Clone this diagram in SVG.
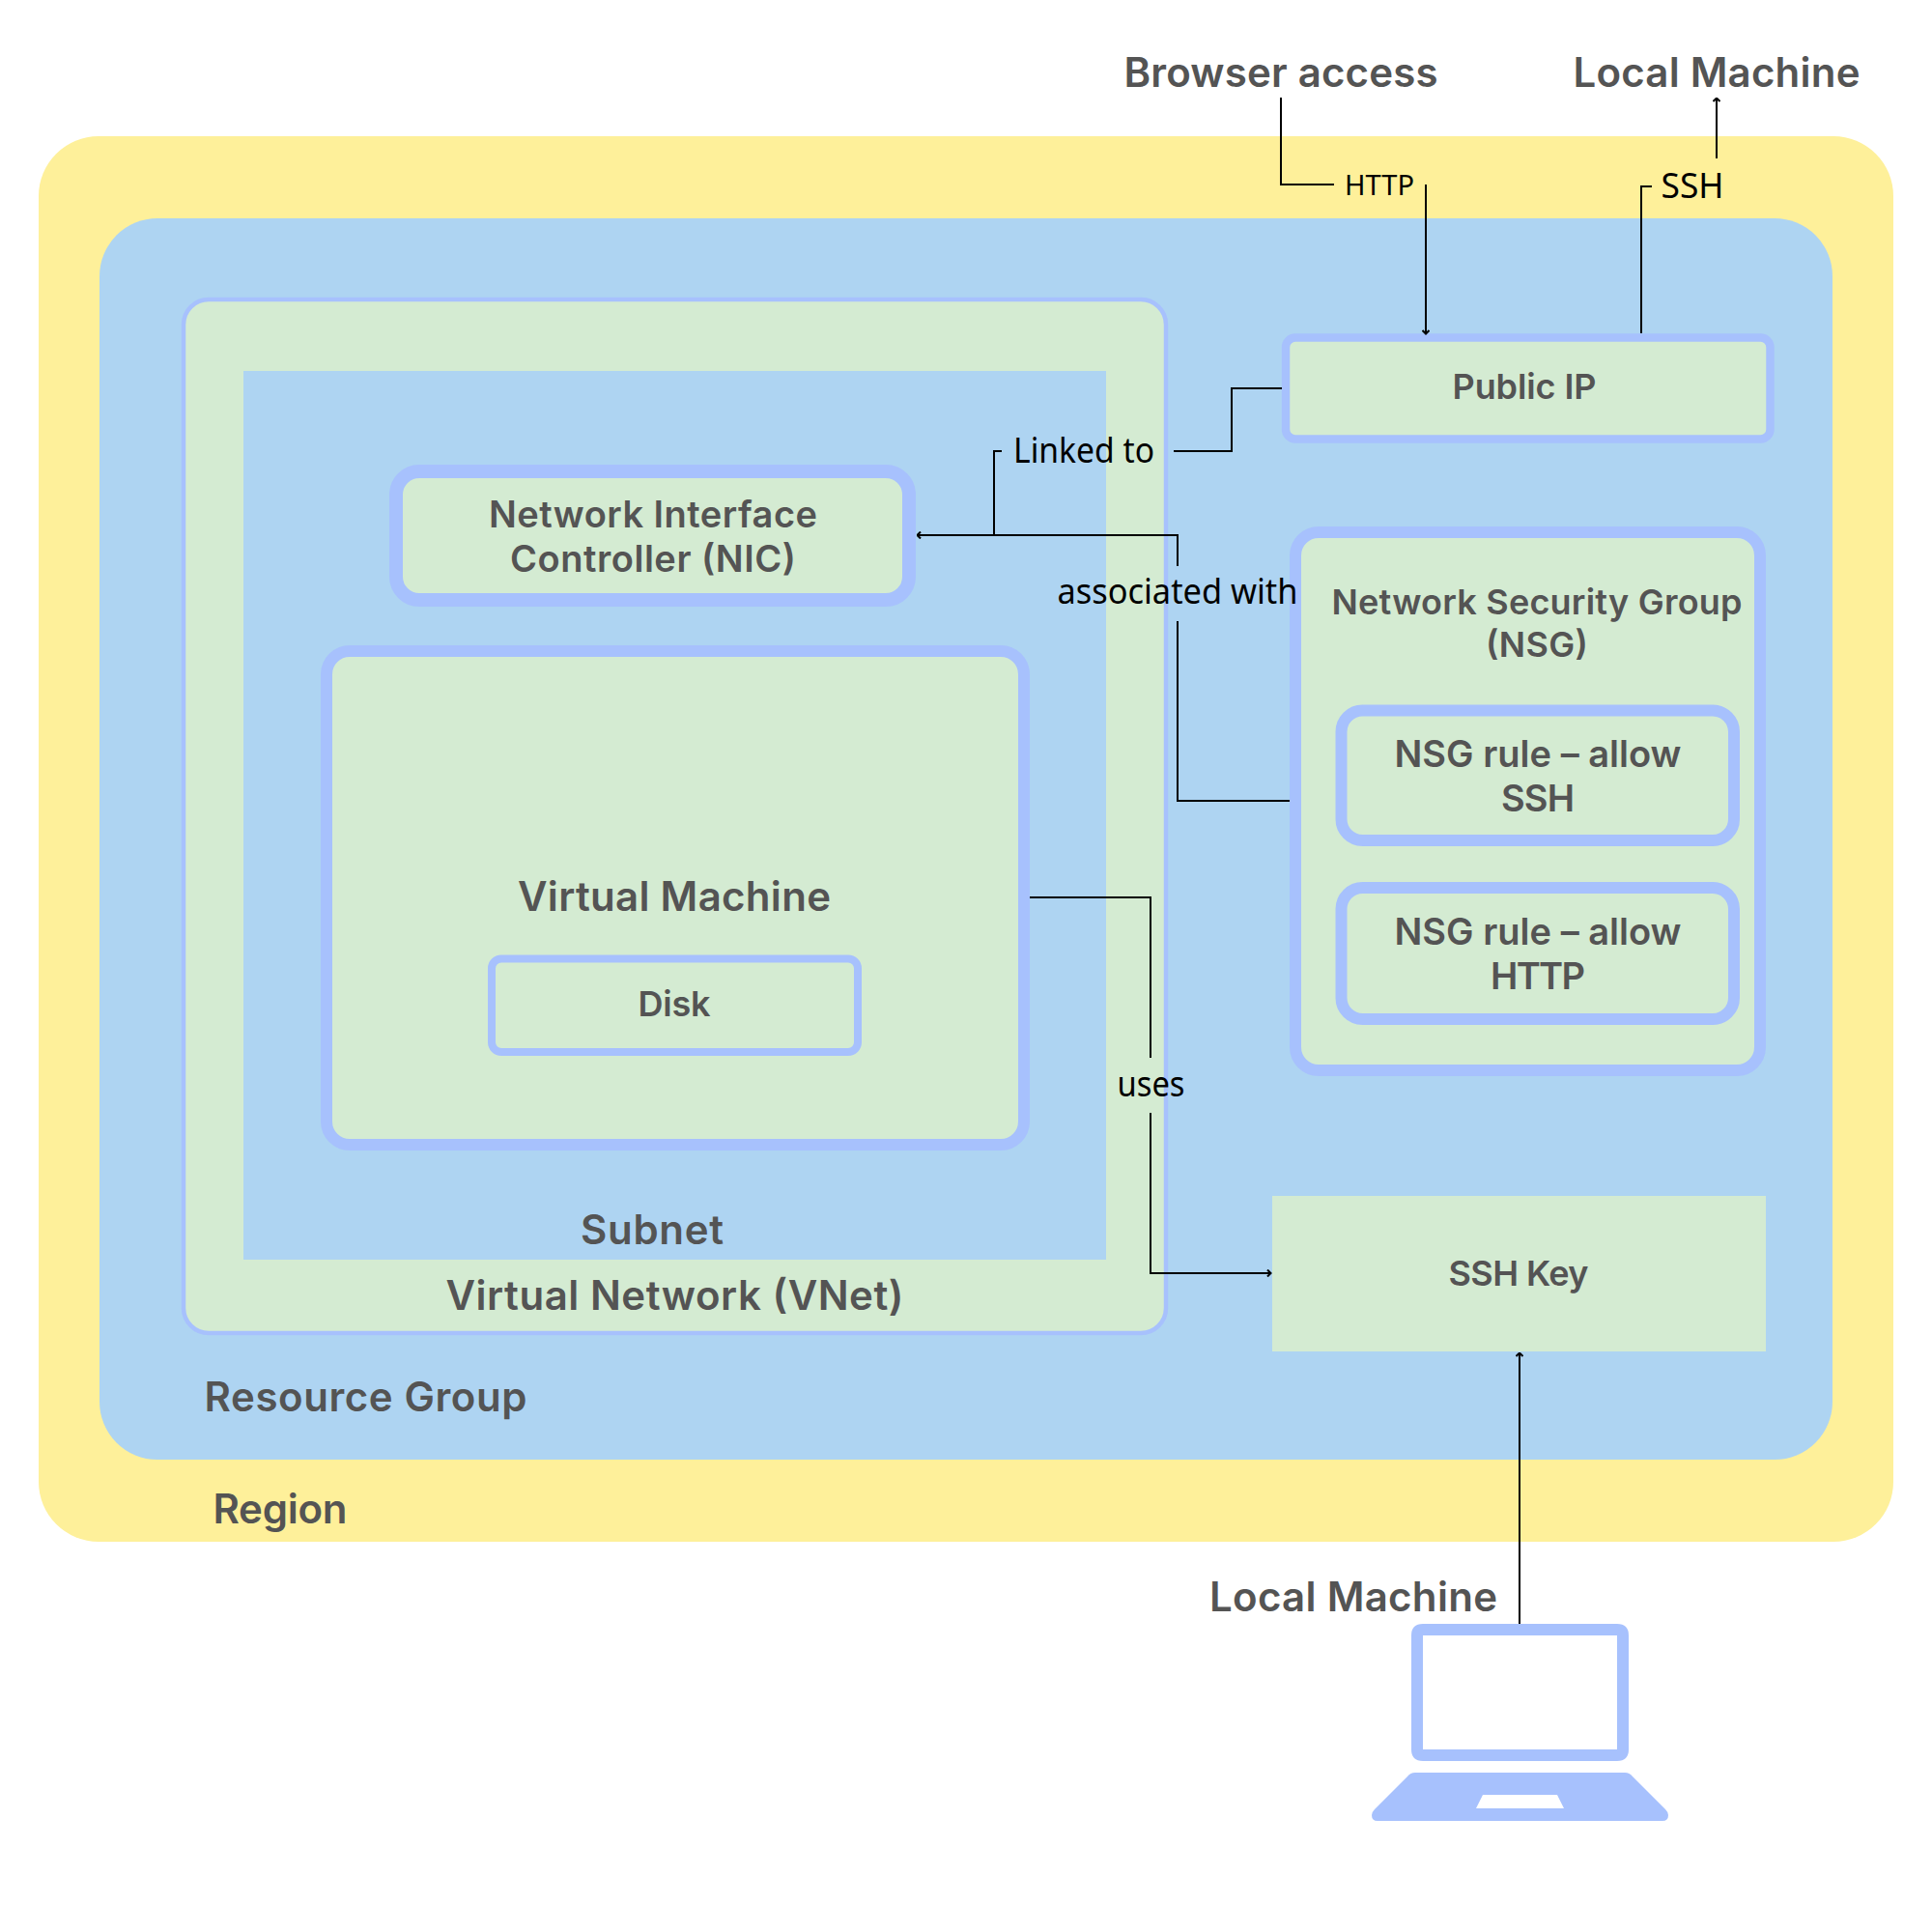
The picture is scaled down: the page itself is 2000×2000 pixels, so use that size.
<svg xmlns="http://www.w3.org/2000/svg" width="2000" height="2000" viewBox="0 0 2000 2000">
<style>
.h{font-family:"Inter","Liberation Sans",sans-serif;font-weight:600;fill:#545454;text-anchor:middle}
.l{font-family:"Noto Sans","Liberation Sans",sans-serif;font-weight:400;fill:#000;text-anchor:middle}
.g{fill:#D4EBD2;stroke:#A7C1FD}
.c{fill:none;stroke:#000;stroke-width:2}
.ic{fill:#A7C1FD}
</style>
<defs>
<marker id="a" markerUnits="userSpaceOnUse" viewBox="0 0 8 8" refX="7.500" refY="4" markerWidth="8" markerHeight="8" orient="auto"><path d="M3.500 0.500 L7 4 L3.500 7.500" fill="none" stroke="#000" stroke-width="2"/></marker>
</defs>
<rect width="2000" height="2000" fill="#fff"/>
<g id="region"><rect x="40" y="141" width="1920" height="1455" rx="62" fill="#FEF09A"/><text class="h" x="290" y="1577" font-size="42" textLength="139">Region</text></g>
<g id="resource-group"><rect x="103" y="226" width="1794" height="1285" rx="60" fill="#AED4F2"/><text class="h" x="378.500" y="1461" font-size="42" textLength="334">Resource Group</text></g>
<g id="vnet"><rect class="g" x="190" y="310" width="1017" height="1070" rx="26" stroke-width="4.500"/><text class="h" x="698.500" y="1356" font-size="42" textLength="474">Virtual Network (VNet)</text></g>
<g id="subnet"><rect x="252" y="384" width="893" height="920" fill="#AED4F2"/><text class="h" x="675" y="1288" font-size="42" textLength="148">Subnet</text></g>
<g id="nic"><rect class="g" x="410" y="488" width="531" height="133" rx="24" stroke-width="14"/><text class="h" x="676" y="546" font-size="38" textLength="340">Network Interface</text><text class="h" x="676" y="592" font-size="38" textLength="296">Controller (NIC)</text></g>
<g id="vm"><rect class="g" x="338" y="674" width="722" height="511" rx="24" stroke-width="12"/><text class="h" x="698" y="943" font-size="42" textLength="324">Virtual Machine</text></g>
<g id="disk"><rect class="g" x="509" y="992.500" width="379" height="96.500" rx="10" stroke-width="8"/><text class="h" x="698" y="1052" font-size="36" textLength="75">Disk</text></g>
<g id="public-ip"><rect class="g" x="1331" y="349.500" width="501.500" height="105" rx="10" stroke-width="8.500"/><text class="h" x="1578" y="413" font-size="36" textLength="149">Public IP</text></g>
<g id="nsg"><rect class="g" x="1341" y="551" width="481" height="557" rx="24" stroke-width="12"/><text class="h" x="1591" y="636" font-size="36" textLength="425">Network Security Group</text><text class="h" x="1591" y="680" font-size="36" textLength="106">(NSG)</text></g>
<g id="nsg-rule-ssh"><rect class="g" x="1388.500" y="735.500" width="406.500" height="134.500" rx="22" stroke-width="12"/><text class="h" x="1592" y="794" font-size="38" textLength="297">NSG rule – allow</text><text class="h" x="1592" y="840" font-size="38" textLength="76">SSH</text></g>
<g id="nsg-rule-http"><rect class="g" x="1388.500" y="919" width="406.500" height="136" rx="22" stroke-width="12"/><text class="h" x="1592" y="978" font-size="38" textLength="297">NSG rule – allow</text><text class="h" x="1592" y="1024" font-size="38" textLength="98">HTTP</text></g>
<g id="ssh-key"><rect x="1317" y="1238" width="511" height="161" fill="#D4EBD2"/><text class="h" x="1572" y="1331" font-size="36" textLength="145">SSH Key</text></g>
<g id="browser"><text class="h" x="1326" y="90" font-size="42" textLength="325">Browser access</text></g>
<g id="local-top"><text class="h" x="1777" y="90" font-size="42" textLength="297">Local Machine</text></g>
<g id="local-bottom"><text class="h" x="1401" y="1668" font-size="42" textLength="298">Local Machine</text>
<path class="ic" fill-rule="evenodd" d="M1473 1681H1674Q1686 1681 1686 1693V1811Q1686 1823 1674 1823H1473Q1461 1823 1461 1811V1693Q1461 1681 1473 1681ZM1473 1693V1811H1674V1693Z"/>
<path class="ic" fill-rule="evenodd" d="M1465 1835H1682Q1687 1835 1690 1839L1724 1873Q1727 1876 1727 1879Q1727 1885 1721 1885H1426Q1420 1885 1420 1879Q1420 1876 1423 1873L1457 1839Q1460 1835 1465 1835ZM1535 1858L1528 1872H1619L1612 1858Z"/></g>
<g id="connectors">
<path class="c" d="M1326 101V191H1381"/>
<path class="c" marker-end="url(#a)" d="M1476 191V346"/>
<path class="c" d="M1710 193H1699V345"/>
<path class="c" marker-end="url(#a)" d="M1777 164V101"/>
<path class="c" d="M1327 402H1275V467H1215"/>
<path class="c" d="M1037 467H1029V554"/>
<path class="c" marker-end="url(#a)" d="M1219 586V554H949"/>
<path class="c" d="M1219 643V829H1335"/>
<path class="c" d="M1066 929H1191V1095"/>
<path class="c" marker-end="url(#a)" d="M1191 1152V1318H1316"/>
<path class="c" marker-end="url(#a)" d="M1573 1681V1400"/>
</g>
<g id="connector-labels">
<text class="l" x="1428" y="202" font-size="29" textLength="72" lengthAdjust="spacingAndGlyphs">HTTP</text>
<text class="l" x="1752" y="205" font-size="36" textLength="65" lengthAdjust="spacingAndGlyphs">SSH</text>
<text class="l" x="1122" y="479" font-size="36" textLength="146" lengthAdjust="spacingAndGlyphs">Linked to</text>
<text class="l" x="1219" y="625" font-size="36" textLength="249" lengthAdjust="spacingAndGlyphs">associated with</text>
<text class="l" x="1191.500" y="1135" font-size="36" textLength="70" lengthAdjust="spacingAndGlyphs">uses</text>
</g>
</svg>
